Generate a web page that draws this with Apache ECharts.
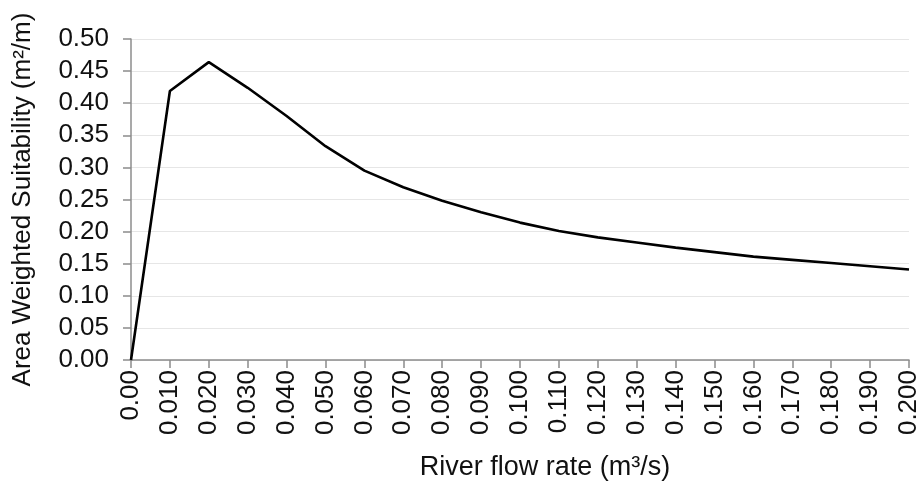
<!DOCTYPE html>
<html>
<head>
<meta charset="utf-8">
<script src="https://cdn.jsdelivr.net/npm/echarts@6/dist/echarts.min.js"></script>
<style>
  html, body { margin: 0; padding: 0; background: #fff; }
  #main { width: 923px; height: 487px; }
</style>
</head>
<body>
<div id="main"></div>
<script>
// flow rates (m3/s), shown as tick labels
const flowLabels = ['0.00', '0.010', '0.020', '0.030', '0.040', '0.050', '0.060', '0.070',
  '0.080', '0.090', '0.100', '0.110', '0.120', '0.130', '0.140', '0.150', '0.160',
  '0.170', '0.180', '0.190', '0.200'];

// area weighted suitability (m2/m)
const suitability = [0, 0.419, 0.464, 0.424, 0.380, 0.333, 0.295, 0.269, 0.248,
  0.230, 0.214, 0.201, 0.191, 0.183, 0.175, 0.168, 0.161, 0.156, 0.151, 0.146, 0.141];

const font = 'Liberation Sans, Arial, sans-serif';

const myChart = echarts.init(document.getElementById('main'));

const option = {
    animation: false,
    grid: {
        left: 131,
        right: 14,
        top: 39,
        bottom: 127,
        containLabel: false
    },
    xAxis: {
        type: 'category',
        data: flowLabels,
        boundaryGap: false,
        name: 'River flow rate (m³/s)',
        nameLocation: 'middle',
        nameGap: 94,
        nameTextStyle: { fontFamily: font, fontSize: 27, color: '#111', padding: [0, 0, 0, 50] },
        axisLine: { lineStyle: { color: '#8c8c8c', width: 1.5 } },
        axisTick: { alignWithLabel: true, length: 8, lineStyle: { color: '#8c8c8c', width: 1.5 } },
        axisLabel: {
            rotate: 90,
            interval: 0,
            margin: 10,
            fontFamily: font,
            fontSize: 26,
            color: '#111'
        },
        splitLine: { show: false }
    },
    yAxis: {
        type: 'value',
        min: 0,
        max: 0.5,
        interval: 0.05,
        name: 'Area Weighted Suitability (m²/m)',
        nameLocation: 'middle',
        nameGap: 95,
        nameTextStyle: { fontFamily: font, fontSize: 26, color: '#111' },
        axisLine: { show: true, lineStyle: { color: '#8c8c8c', width: 1.5 } },
        axisTick: { show: true, length: 8, lineStyle: { color: '#8c8c8c', width: 1.5 } },
        axisLabel: {
            margin: 22,
            fontFamily: font,
            fontSize: 26,
            color: '#111',
            formatter: function (v) { return v.toFixed(2); }
        },
        splitLine: { show: true, lineStyle: { color: '#e6e6e6', width: 1 } }
    },
    series: [
        {
            type: 'line',
            data: suitability,
            symbol: 'none',
            lineStyle: { color: '#000', width: 2.6 }
        }
    ]
};

myChart.setOption(option);
</script>
</body>
</html>
